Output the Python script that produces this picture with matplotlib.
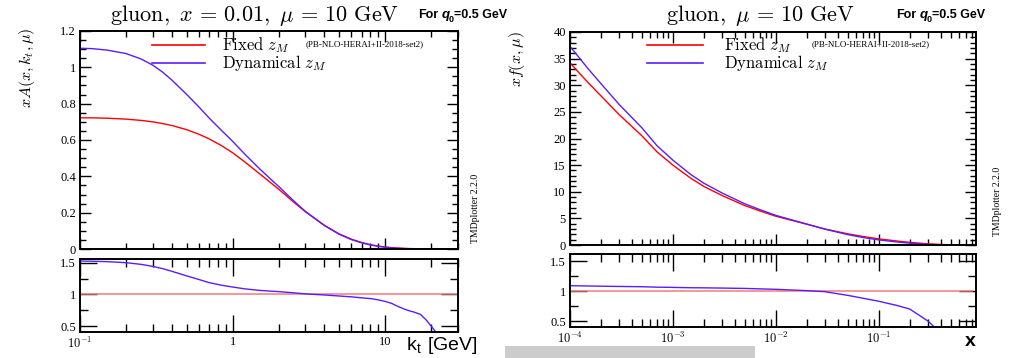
import numpy as np
import matplotlib
matplotlib.use("Agg")
import matplotlib.pyplot as plt
from matplotlib.ticker import AutoMinorLocator, FixedLocator, FuncFormatter, LogLocator, NullFormatter
from matplotlib.patches import Rectangle

plt.rcParams["mathtext.fontset"] = "cm"
plt.rcParams["font.family"] = ["Liberation Serif", "DejaVu Serif"]

# ---- TMD gluon density vs kt at x = 0.01, mu = 10 GeV ----
kt = [0.1, 0.12, 0.15, 0.2, 0.25, 0.3, 0.35, 0.4, 0.5, 0.6, 0.7, 0.85, 1.0, 1.2, 1.5,
      2.0, 2.5, 3.0, 4.0, 5.0, 6.0, 7.0, 8.0, 9.0, 10.0, 11.0, 12.0, 13.0, 14.0,
      15.5, 17.0, 18.5, 20.0, 21.5, 25.0, 30.0]
tmd_fixed = [0.722, 0.722, 0.72, 0.715, 0.708, 0.70, 0.69, 0.68, 0.657, 0.632, 0.607,
             0.568, 0.53, 0.48, 0.415, 0.33, 0.26, 0.205, 0.13, 0.083, 0.054,
             0.036, 0.024, 0.016, 0.011, 0.0075, 0.0052, 0.0037, 0.0026, 0.0017,
             0.0011, 0.0007, 0.00045, 0.0003, 0.0001, 0.00002]
tmd_dynamic = [1.105, 1.103, 1.095, 1.076, 1.047, 1.012, 0.972, 0.93, 0.851, 0.783, 0.722,
               0.651, 0.593, 0.523, 0.442, 0.345, 0.267, 0.207, 0.129, 0.081, 0.052,
               0.0341, 0.02244, 0.01464, 0.00979, 0.00645, 0.00424, 0.002886, 0.00195,
               0.001224, 0.000754, 0.00042, 0.000225, 0.00012, 0.00002, 0.000002]

# ---- integrated gluon density vs x at mu = 10 GeV ----
xs = [1e-4, 1.5e-4, 2e-4, 3e-4, 5e-4, 7e-4, 1e-3, 1.5e-3, 2e-3, 3e-3, 5e-3, 7e-3,
      1e-2, 2e-2, 3e-2, 5e-2, 7e-2, 0.1, 0.15, 0.2, 0.3, 0.4, 0.5, 0.6, 0.7, 0.8]
pdf_fixed = [34.2, 30.5, 28.0, 24.5, 20.5, 17.5, 15.0, 12.5, 11.0, 9.3, 7.4, 6.4,
             5.4, 3.9, 3.0, 2.1, 1.6, 1.15, 0.75, 0.5, 0.22, 0.1, 0.04, 0.015,
             0.005, 0.001]
pdf_dynamic = [37.3, 33.1, 30.3, 26.4, 22.0, 18.65, 15.93, 13.2, 11.6, 9.77, 7.73,
               6.64, 5.56, 3.93, 2.97, 1.95, 1.41, 0.955, 0.57, 0.35, 0.11, 0.03,
               0.006, 0.0012, 0.0002, 0.00002]

RED = "#ff0000"
BLUE = "#5a1cff"
RED_RATIO = "#f37a7a"
SANS = ["Liberation Sans", "DejaVu Sans"]

W, H = 1011, 358
fig = plt.figure(figsize=(W / 100, H / 100), dpi=100)


def box(x0, y0, x1, y1):
    return [x0 / W, 1 - y1 / H, (x1 - x0) / W, (y1 - y0) / H]


def style(ax, major_len=8, minor_len=4):
    for s in ax.spines.values():
        s.set_linewidth(1.4)
    ax.tick_params(which="both", direction="in", top=True, right=True,
                   labelsize=9, width=1.0, pad=3)
    ax.tick_params(which="major", length=major_len)
    ax.tick_params(which="minor", length=minor_len)


fmt_g = FuncFormatter(lambda v, p: "%g" % v)


def log_label(v, p):
    e = int(round(np.log10(v)))
    if e == 0:
        return "1"
    if e == 1:
        return "10"
    return r"$10^{%d}$" % e


def panel(main_box, ratio_box, x, fixed, dyn, xlim, ylim, ymaj, yminor, rlim):
    ax = fig.add_axes(box(*main_box))
    ar = fig.add_axes(box(*ratio_box))
    ax.plot(x, fixed, color=RED, lw=1.0)
    ax.plot(x, dyn, color=BLUE, lw=1.0)
    ratio = np.array(dyn) / np.array(fixed)
    ar.plot(x, np.ones(len(x)), color=RED_RATIO, lw=1.1)
    ar.plot(x, ratio, color=BLUE, lw=1.0)
    for a in (ax, ar):
        a.set_xscale("log")
        a.set_xlim(*xlim)
        a.xaxis.set_major_locator(LogLocator(base=10, numticks=20))
        a.xaxis.set_minor_locator(LogLocator(base=10, subs=np.arange(2, 10), numticks=20))
        a.xaxis.set_minor_formatter(NullFormatter())
    style(ax)
    style(ar, major_len=12, minor_len=6)
    ax.set_ylim(*ylim)
    ax.yaxis.set_major_locator(FixedLocator(ymaj))
    ax.yaxis.set_minor_locator(AutoMinorLocator(yminor))
    ax.yaxis.set_major_formatter(fmt_g)
    ax.xaxis.set_major_formatter(NullFormatter())
    ar.set_ylim(*rlim)
    ar.yaxis.set_major_locator(FixedLocator([0.5, 1.0, 1.5]))
    ar.yaxis.set_minor_locator(AutoMinorLocator(2))
    ar.yaxis.set_major_formatter(fmt_g)
    ar.xaxis.set_major_formatter(FuncFormatter(log_label))
    return ax, ar


ax1, ar1 = panel((80, 31, 458, 249), (80, 259, 458, 332), kt, tmd_fixed, tmd_dynamic,
                 (0.1, 30), (0, 1.2), [0, 0.2, 0.4, 0.6, 0.8, 1.0, 1.2], 4, (0.405, 1.563))
ax2, ar2 = panel((570, 32, 976, 245), (570, 254, 976, 327), xs, pdf_fixed, pdf_dynamic,
                 (1e-4, 0.88), (0, 40), [0, 5, 10, 15, 20, 25, 30, 35, 40], 5, (0.4, 1.62))


def fx(px):
    return px / W


def fy(py):
    return 1 - py / H


def legend(x_line0, x_line1, x_text, y_fixed, y_dyn, x_note):
    for yy, c in ((y_fixed, RED), (y_dyn, BLUE)):
        fig.add_artist(plt.Line2D([fx(x_line0), fx(x_line1)], [fy(yy), fy(yy)],
                                  color=c, lw=1.2))
    fig.text(fx(x_text), fy(y_fixed), r"$\mathrm{Fixed}\ z_M$", fontsize=12,
             va="center", ha="left")
    fig.text(fx(x_note), fy(y_fixed - 1), "(PB-NLO-HERAI+II-2018-set2)", fontsize=6.5,
             va="center", ha="left")
    fig.text(fx(x_text), fy(y_dyn), r"$\mathrm{Dynamical}\ z_M$", fontsize=12,
             va="center", ha="left")


legend(152, 205, 222, 45, 63, 306)
legend(647, 703, 724, 45, 63, 812)

# titles
fig.text(fx(255), fy(15), r"$\mathrm{gluon},\ x\,=\,0.01,\ \mu\,=\,10\ \mathrm{GeV}$",
         fontsize=16, ha="center", va="center")
fig.text(fx(760), fy(15), r"$\mathrm{gluon},\ \mu\,=\,10\ \mathrm{GeV}$",
         fontsize=16, ha="center", va="center")


def q0_note(x_left, y_mid):
    """Bold 'For q0=0.5 GeV' note, built piece by piece."""
    fig.text(fx(x_left), fy(y_mid), "For", fontsize=9, fontweight="bold",
             family=SANS, ha="left", va="center")
    fig.text(fx(x_left + 24), fy(y_mid), "q", fontsize=9.5, fontweight="bold",
             fontstyle="italic", family=SANS, ha="left", va="center")
    fig.text(fx(x_left + 31), fy(y_mid + 4), "0", fontsize=6.5, fontweight="bold",
             family=SANS, ha="left", va="center")
    fig.text(fx(x_left + 36), fy(y_mid), "=0.5 GeV", fontsize=9, fontweight="bold",
             family=SANS, ha="left", va="center")


q0_note(418, 15)
q0_note(896, 15)

# axis titles
fig.text(fx(27), fy(28), r"$xA(x,k_t,\mu)$", fontsize=11.5, rotation=90,
         ha="center", va="top")
fig.text(fx(517), fy(31), r"$xf(x,\mu)$", fontsize=11.5, rotation=90,
         ha="center", va="top")
fig.text(fx(478), fy(346), r"k$_\mathregular{t}$ [GeV]", fontsize=14,
         family=SANS, ha="right", va="center")
fig.text(fx(970), fy(341), "x", fontsize=14, fontweight="bold",
         family=SANS, ha="center", va="center")

# program tag
for xc, yb in ((475, 243), (998, 236)):
    fig.text(fx(xc), fy(yb), "TMDplotter 2.2.0", fontsize=7, rotation=90,
             ha="center", va="bottom")

fig.add_artist(Rectangle((fx(505), 0), (755 - 505) / W, 12 / H,
                         transform=fig.transFigure, color="#cccccc", lw=0))

fig.savefig("out.png", dpi=100)
